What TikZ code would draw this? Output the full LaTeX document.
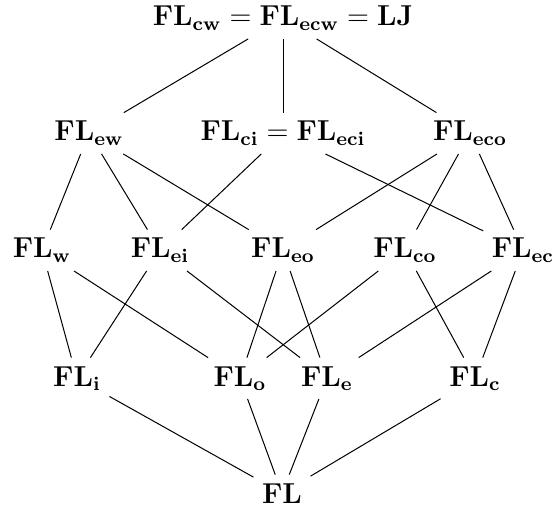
\documentclass[tikz,border=0pt,12pt]{standalone}
\begin{document}
\begin{tikzpicture}[x=0.41667pt,y=-0.41667pt,
  lat/.style={anchor=base, inner sep=3.4pt},
  edge/.style={line width=0.42pt}]
\useasboundingbox (0,0) rectangle (554,517);
\node[lat] (top) at (283,26) {$\mathbf{FL_{cw} = FL_{ecw} = LJ}$};
\node[lat] (ew) at (89,141) {$\mathbf{FL_{ew}}$};
\node[lat] (ci) at (283,141) {$\mathbf{FL_{ci} = FL_{eci}}$};
\node[lat] (eco) at (470,141) {$\mathbf{FL_{eco}}$};
\node[lat] (w) at (42,258) {$\mathbf{FL_{w}}$};
\node[lat] (ei) at (160,258) {$\mathbf{FL_{ei}}$};
\node[lat] (eo) at (283,258) {$\mathbf{FL_{eo}}$};
\node[lat] (co) at (405,258) {$\mathbf{FL_{co}}$};
\node[lat] (ec) at (523,258) {$\mathbf{FL_{ec}}$};
\node[lat] (i) at (77,386) {$\mathbf{FL_{i}}$};
\node[lat] (o) at (240,386) {$\mathbf{FL_{o}}$};
\node[lat] (e) at (327,386) {$\mathbf{FL_{e}}$};
\node[lat] (c) at (475,386) {$\mathbf{FL_{c}}$};
\node[lat] (fl) at (282,503) {$\mathbf{FL}$};
\foreach \a/\b in {top/ew,top/ci,top/eco,
  ew/w,ew/ei,ew/eo,ci/ei,ci/ec,eco/eo,eco/co,eco/ec,
  w/i,w/o,ei/i,ei/e,eo/o,eo/e,co/o,co/c,ec/e,ec/c,
  i/fl,o/fl,e/fl,c/fl}
  \draw[edge] (\a) -- (\b);
\end{tikzpicture}
\end{document}
